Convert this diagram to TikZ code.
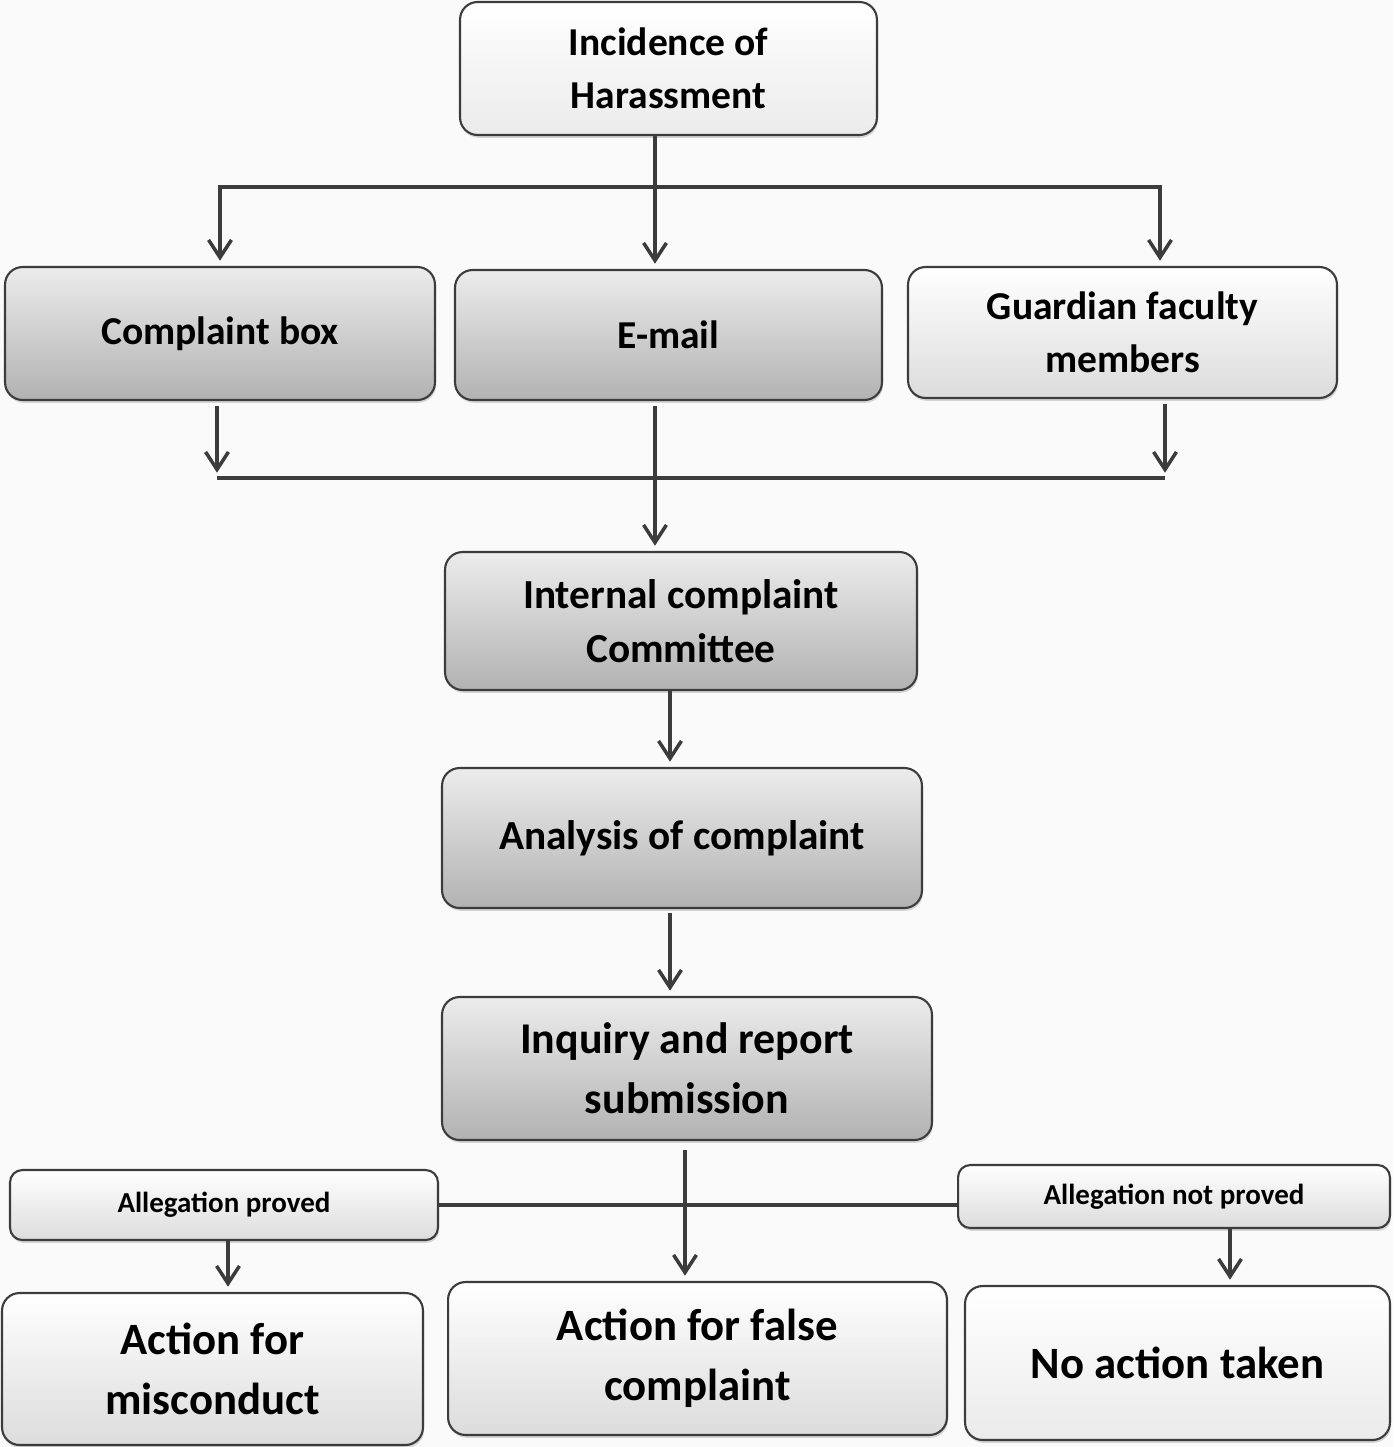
\documentclass[tikz,border=0pt]{standalone}
\usepackage{fontspec}
\setmainfont{Carlito}
\usepackage{xcolor}
\usepackage{tikz}
\usetikzlibrary{arrows.meta, shadows}
\definecolor{edge-color}{RGB}{60,60,60}
\definecolor{paper}{RGB}{250,250,250}
\definecolor{box-top}{RGB}{236,236,236}
\definecolor{box-dark}{RGB}{178,178,178}
\definecolor{box-mid}{RGB}{205,205,205}
\tikzset{
    stage/.style = {draw=edge-color, line width=1.2pt, rounded corners=10pt,
        align=center, inner sep=0pt, text=black,
        top color=box-top, bottom color=box-dark,
        drop shadow={shadow xshift=0.6pt, shadow yshift=-1.6pt, opacity=0.3}},
    stage-light/.style = {stage, top color=white, bottom color=box-mid!70},
    stage-pale/.style = {stage, top color=white, bottom color=box-mid!40},
    txt-m/.style = {font=\bfseries\fontsize{22.5}{30}\selectfont},
    txt-l/.style = {font=\bfseries\fontsize{23.5}{31}\selectfont},
    txt-xl/.style = {font=\bfseries\fontsize{25}{34}\selectfont},
    txt-big/.style = {font=\bfseries\fontsize{25.5}{34}\selectfont},
    txt-s/.style = {font=\bfseries\fontsize{16.5}{18}\selectfont},
    flow/.style = {draw=edge-color, line width=2pt},
    flow-arr/.style = {flow, -{Straight Barb[length=10pt,width=13pt]}, shorten >=3pt}
}

\begin{document}
\begin{tikzpicture}[x=0.02cm, y=-0.02cm]
\fill[paper] (0,0) rectangle (1393,1447);
\useasboundingbox (0,0) rectangle (1393,1447);

%reporting
\node[stage-pale, txt-m, minimum width=8.34cm, minimum height=2.66cm] (inc) at (668.5,68.5) {Incidence of\\Harassment};

\node[stage, txt-m, minimum width=8.6cm, minimum height=2.66cm] (cbox) at (220,333.5) {Complaint box};
\node[stage, txt-m, minimum width=8.54cm, minimum height=2.6cm] (email) at (668.5,335) {E-mail};
\node[stage-light, txt-m, minimum width=8.58cm, minimum height=2.62cm] (guard) at (1122.5,332.5) {Guardian faculty\\members};

%committee
\node[stage, txt-l, minimum width=9.44cm, minimum height=2.76cm] (icc) at (681,621) {Internal complaint\\Committee};
\node[stage, txt-l, minimum width=9.6cm, minimum height=2.8cm] (anal) at (682,838) {Analysis of complaint};
\node[stage, txt-xl, minimum width=9.8cm, minimum height=2.86cm] (inq) at (687,1068.5) {Inquiry and report\\submission};

%outcome
\node[stage-light, txt-s, minimum width=8.56cm, minimum height=1.4cm, rounded corners=7pt] (proved) at (224,1205) {Allegation proved};
\node[stage-light, txt-s, minimum width=8.64cm, minimum height=1.26cm, rounded corners=7pt] (notproved) at (1174,1196.5) {Allegation not proved};

\node[stage-light, txt-big, minimum width=8.42cm, minimum height=3.04cm] (misc) at (212.5,1369) {Action for\\misconduct};
\node[stage-light, txt-big, minimum width=9.98cm, minimum height=3.06cm] (false) at (697.5,1358.5) {Action for false\\complaint};
\node[stage-pale, txt-big, minimum width=8.5cm, minimum height=3.08cm] (noact) at (1177.5,1363) {No action taken};

%junctions
\coordinate (split) at (655,187);
\coordinate (splitR) at (1160,187);
\coordinate (mergeL) at (217,478);
\coordinate (mergeR) at (1165,478);
\coordinate (mid) at (655,0);
\coordinate (colA) at (670,0);
\coordinate (colB) at (685,0);
\coordinate (colP) at (228,0);
\coordinate (colN) at (1230,0);

%connectors
\draw[flow-arr] (inc.south -| split) -- (email.north -| split);
\draw[flow-arr] (split) -| (cbox.north);
\draw[flow-arr] (split) -- (splitR) -- (guard.north -| splitR);

\draw[flow-arr] ([yshift=-3pt]cbox.south -| mergeL) -- (mergeL);
\draw[flow-arr] ([yshift=-3pt]guard.south -| mergeR) -- (mergeR);
\draw[flow] (mergeL) -- (mergeR);
\draw[flow-arr] ([yshift=-3pt]email.south -| mid) -- (icc.north -| mid);

\draw[flow-arr] (icc.south -| colA) -- (anal.north -| colA);
\draw[flow-arr] ([yshift=-2pt]anal.south -| colA) -- (inq.north -| colA);
\draw[flow-arr] ([yshift=-5pt]inq.south -| colB) -- (false.north -| colB);

\draw[flow] (proved.east) -- (proved.east -| notproved.west);
\draw[flow-arr] (proved.south -| colP) -- (misc.north -| colP);
\draw[flow-arr] (notproved.south -| colN) -- (noact.north -| colN);
\end{tikzpicture}
\end{document}
